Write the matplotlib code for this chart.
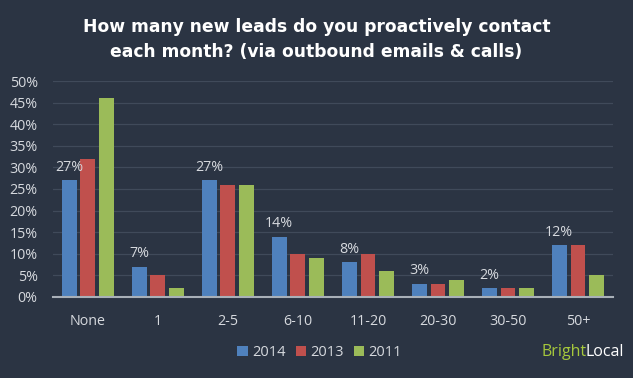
import matplotlib.pyplot as plt
import numpy as np

categories = ["None", "1", "2-5", "6-10", "11-20", "20-30", "30-50", "50+"]
years = ["2014", "2013", "2011"]
v2014 = [27, 7, 27, 14, 8, 3, 2, 12]
v2013 = [32, 5, 26, 10, 10, 3, 2, 12]
v2011 = [46, 2, 26, 9, 6, 4, 2, 5]
colors = ["#4f81bd", "#c0504d", "#9bbb59"]

bg = "#2b3443"
txt = "#d6d9de"

fig = plt.figure(figsize=(6.33, 3.78), dpi=100, facecolor=bg)
ax = fig.add_axes([0.0837, 0.2143, 0.8847, 0.5714], facecolor=bg)

x = np.arange(len(categories))
w = 0.214
step = 0.27
for i, vals in enumerate([v2014, v2013, v2011]):
    ax.bar(x + (i - 1) * step, vals, width=w, color=colors[i], label=years[i], zorder=3)

for xi, v in zip(x, v2014):
    ax.text(xi - step, v + 1.3, "%d%%" % v, ha="center", va="bottom",
            color=txt, fontsize=10.3, family="Open Sans")

ax.set_xlim(-0.5, len(categories) - 0.5)
ax.set_ylim(0, 50)
ax.set_yticks(range(0, 51, 5))
ax.set_yticklabels(["%d%%" % t for t in range(0, 51, 5)])
ax.set_xticks(x)
ax.set_xticklabels(categories)
ax.yaxis.grid(True, color="#404a5a", linewidth=0.9, zorder=0)
ax.tick_params(length=0, colors=txt, labelsize=10.3)
ax.tick_params(axis="y", pad=11)
ax.tick_params(axis="x", pad=12)
for lbl in ax.get_xticklabels() + ax.get_yticklabels():
    lbl.set_family("Open Sans")
for s in ["top", "right", "left"]:
    ax.spines[s].set_visible(False)
ax.spines["bottom"].set_color("#a9b0b8")
ax.spines["bottom"].set_linewidth(1.5)
ax.spines["bottom"].set_zorder(4)

fig.text(0.5, 0.915, "How many new leads do you proactively contact", ha="center", va="baseline",
         color="white", fontsize=12.3, fontweight="bold", family="DejaVu Sans")
fig.text(0.5, 0.849, "each month? (via outbound emails & calls)", ha="center", va="baseline",
         color="white", fontsize=12.3, fontweight="bold", family="DejaVu Sans")

leg = fig.legend(loc="center", bbox_to_anchor=(0.505, 0.068), ncol=3, frameon=False,
                 handlelength=0.7, handleheight=0.7, handletextpad=0.3, columnspacing=0.7,
                 prop={"family": "Open Sans", "size": 10.5})
for t in leg.get_texts():
    t.set_color(txt)

# logo: "Local" right aligned at the edge, "Bright" placed just before it
local = fig.text(0.985, 0.068, "Local", ha="right", va="center", color="white",
                 fontsize=11.5, family="Open Sans")
r = fig.canvas.get_renderer()
lx0 = (local.get_window_extent(r).x0 + 2) / fig.bbox.width
fig.text(lx0, 0.068, "Bright", ha="right", va="center", color="#a6c83c",
         fontsize=11.5, family="Open Sans")

fig.savefig("out.png", dpi=100, facecolor=bg)
